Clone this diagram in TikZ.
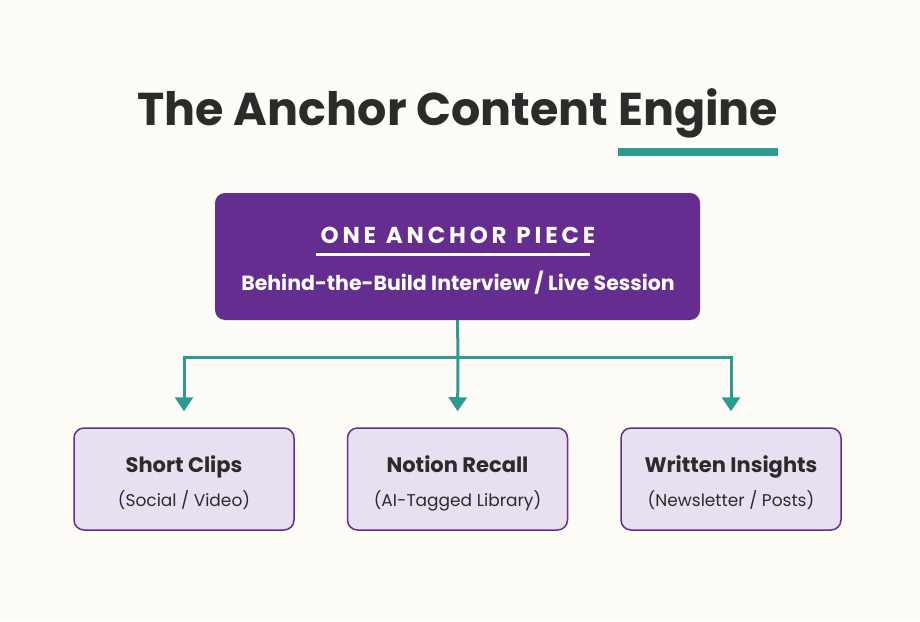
\documentclass[tikz,border=0pt]{standalone}
\usepackage{fontspec}
\setmainfont{Poppins}
\usetikzlibrary{arrows.meta,positioning}
\definecolor{cream}{HTML}{FDFCF7}
\definecolor{plum}{HTML}{652D90}
\definecolor{lilac}{HTML}{E8DFF0}
\definecolor{teal}{HTML}{2A9D8F}
\definecolor{ink}{HTML}{2B2B2B}
\begin{document}
\begin{tikzpicture}[x=1pt,y=-1pt,
  anchor box/.style={rectangle,rounded corners=10pt,fill=plum,minimum width=485pt,minimum height=127pt},
  leaf box/.style={rectangle,rounded corners=10pt,fill=lilac,draw=plum,line width=1.5pt,minimum width=220pt,minimum height=102pt,align=center,text=ink},
  link/.style={draw=teal,line width=3pt},
  tip/.style={-{Triangle[length=14pt,width=18pt]}}]
  \fill[cream] (0,0) rectangle (920,621);
  \useasboundingbox (0,0) rectangle (920,621);

  % title
  \node[font=\fontsize{46}{52}\selectfont\bfseries,text=ink] (title) at (458,113) {The Anchor Content Engine};
  \fill[teal] (618,148) rectangle (778,156);

  % anchor piece
  \node[anchor box] (anchor) at (457.5,256.5) {};
  \node[text=white,font=\fontsize{23}{26}\selectfont\bfseries] (head) at (458,235) {O\,N\,E\ \ A\,N\,C\,H\,O\,R\ \ P\,I\,E\,C\,E};
  \fill[white] (316,253) rectangle (590,256);
  \node[text=white,font=\fontsize{20.5}{24}\selectfont\bfseries] (sub) at (458,283) {Behind-the-Build Interview / Live Session};

  % outputs
  \node[leaf box] (clips) at (184,479) {};
  \node[leaf box] (notion) at (457.5,479) {};
  \node[leaf box] (written) at (731,479) {};
  \foreach \n/\t/\s in {clips/{Short Clips}/{(Social / Video)},
                        notion/{Notion Recall}/{(AI-Tagged Library)},
                        written/{Written Insights}/{(Newsletter / Posts)}}{
    \node[anchor=base,text=ink,font=\fontsize{21}{24}\selectfont\bfseries] at ([yshift=7pt]\n.center) {\t};
    \node[anchor=base,text=ink,font=\fontsize{17}{20}\selectfont] at ([yshift=-27pt]\n.center) {\s};
  }

  % connectors
  \coordinate (hub) at (458,357);
  \path[link] (anchor.south) -- (hub);
  \path[link,tip,shorten >=16pt] (hub) -| (clips.north);
  \path[link,tip,shorten >=16pt] (hub) -- (notion.north);
  \path[link,tip,shorten >=16pt] (hub) -| (written.north);
\end{tikzpicture}
\end{document}
